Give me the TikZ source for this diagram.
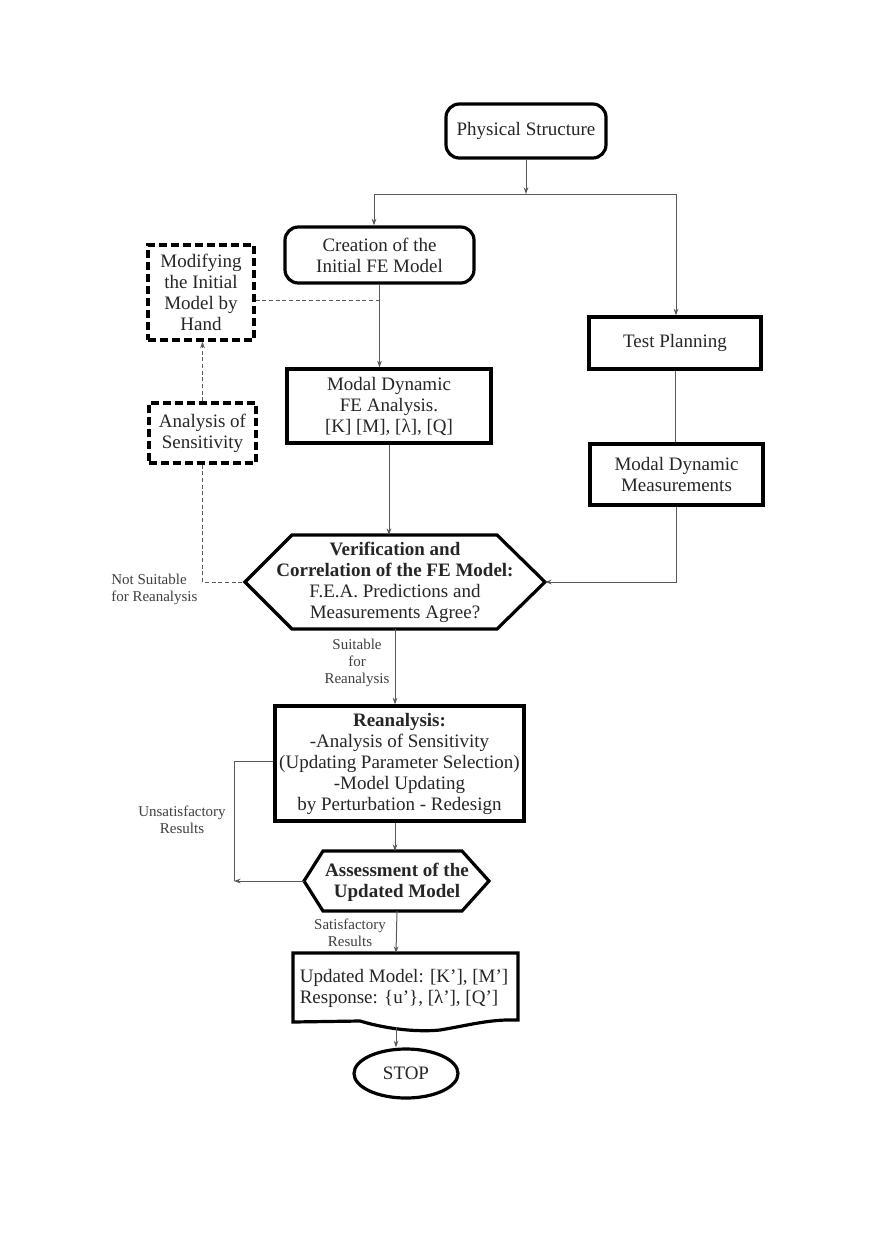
\documentclass[tikz,border=0pt]{standalone}
\usepackage{fontspec}
\setmainfont{Liberation Serif}
\usetikzlibrary{arrows.meta,shapes.geometric,calc}
\begin{document}
\begin{tikzpicture}[x=0.75pt,y=-0.75pt,
  txt/.style={font=\fontsize{14.25}{15.75}\selectfont, text=black!85, align=center, inner sep=0pt},
  small/.style={font=\fontsize{11.25}{12.75}\selectfont, text=black!75, inner sep=0pt},
  box/.style={txt, draw=black, line width=2.4pt, rectangle},
  rbox/.style={box, rounded corners=10pt},
  dbox/.style={box, dash pattern=on 6pt off 3pt},
  hexline/.style={draw=black, line width=2.4pt, line join=miter},
  conn/.style={draw=black!65, line width=0.75pt},
  arr/.style={conn, -{Stealth[length=5pt,width=3.5pt]}},
  dconn/.style={conn, dash pattern=on 3pt off 2pt},
]
\useasboundingbox (0,0) rectangle (872,1240);
\fill[white] (0,0) rectangle (872,1240);

% nodes
\node[rbox, minimum width=120pt, minimum height=40.5pt] (phys) at (526,131) {Physical Structure};
\node[rbox, minimum width=141.75pt, minimum height=42pt] (create) at (379.5,255) {Creation of the\\Initial FE Model};
\node[dbox, minimum width=79.5pt, minimum height=71.25pt] (modify) at (201,292.5) {Modifying\\the Initial\\Model by\\Hand};
\node[box, minimum width=129pt, minimum height=39pt] (test) at (675,343) {Test Planning};
\node[box, minimum width=153pt, minimum height=55.5pt] (fea) at (389,406) {Modal Dynamic\\FE Analysis.\\{[K] [M], [λ], [Q]}};
\node[dbox, minimum width=80.25pt, minimum height=45pt] (sens) at (202.5,433) {Analysis of\\Sensitivity};
\node[box, minimum width=129.75pt, minimum height=45.75pt] (meas) at (676.5,474.5) {Modal Dynamic\\Measurements};

% verification hexagon
\coordinate (vL) at (245,582);
\coordinate (vR) at (545,582);
\coordinate (vT) at (389,535);
\coordinate (vB) at (395,629);
\draw[hexline] (vL) -- (292,535) -- (497,535) -- (vR) -- (497,629) -- (292,629) -- cycle;
\node[txt] (verify) at (395,582) {\textbf{Verification and}\\\textbf{Correlation of the FE Model:}\\F.E.A. Predictions and\\Measurements Agree?};

\node[box, minimum width=186.75pt, minimum height=86.25pt] (rean) at (399.5,763.5) {\textbf{Reanalysis:}\\-Analysis of Sensitivity\\(Updating Parameter Selection)\\-Model Updating\\by Perturbation - Redesign};

% assessment hexagon
\coordinate (aL) at (304,881);
\coordinate (aR) at (489,881);
\coordinate (aT) at (395,851);
\coordinate (aB) at (397,911);
\draw[hexline] (aL) -- (323,851) -- (462,851) -- (aR) -- (462,911) -- (323,911) -- cycle;
\node[txt] (assess) at (397,882) {\textbf{Assessment of the}\\\textbf{Updated Model}};

% document shape
\coordinate (dT) at (396,953);
\coordinate (dB) at (396,1027);
\draw[line width=2.4pt, line join=miter] (293,953) -- (518,953) -- (518,1020)
  .. controls (490,1019) and (470,1025) .. (440,1030)
  .. controls (420,1032) and (390,1030) .. (360,1021) -- (293,1022) -- cycle;
\node[txt, align=left] (upd) at (404,988.5) {Updated Model: [K’], [M’]\\Response: \{u’\}, [λ’], [Q’]};

\node[txt, draw=black, line width=2.4pt, ellipse, minimum width=78pt, minimum height=36.75pt] (stop) at (406,1073.5) {STOP};

% connectors
\coordinate (j) at (526,194);
\coordinate (jl) at (374,194);
\coordinate (jr) at (676,194);
\draw[arr] (phys.south) -- (j);
\draw[conn] (jl) -- (jr);
\draw[arr] (jl) -- (jl |- create.north);
\draw[arr] (jr) -- (jr |- test.north);
\draw[arr] (create.south) -- (create.south |- fea.north);
\coordinate (mj) at (379.5,300);
\draw[dconn] (modify.east |- mj) -- (mj);
\draw[dconn, -{Stealth[length=5pt,width=3.5pt]}] (sens.north) -- (sens.north |- modify.south);
\draw[dconn] (sens.south) |- (vL);
\draw[conn] (test.south) -- (test.south |- meas.north);
\draw[arr] (meas.south) |- (vR);
\draw[arr] (fea.south) -- (vT);
\draw[arr] (vB) -- (vB |- rean.north);
\draw[arr] (vB |- rean.south) -- (aT);
\coordinate (uc) at (234,881);
\draw[arr] (aL) -- (uc);
\draw[conn] (uc) |- ($(rean.west)+(0,-2.5)$);
\draw[arr] (aB) -- (dT);
\draw[arr] (dB) -- (dB |- stop.north);

% labels
\node[small, align=left, anchor=west] (lns) at (111,589) {Not Suitable\\for Reanalysis};
\node[small, align=center] (lsr) at (357,663) {Suitable\\for\\Reanalysis};
\node[small, align=center] (lur) at (182,819.5) {Unsatisfactory\\Results};
\node[small, align=center] (lsat) at (350,933) {Satisfactory\\Results};
\end{tikzpicture}
\end{document}
